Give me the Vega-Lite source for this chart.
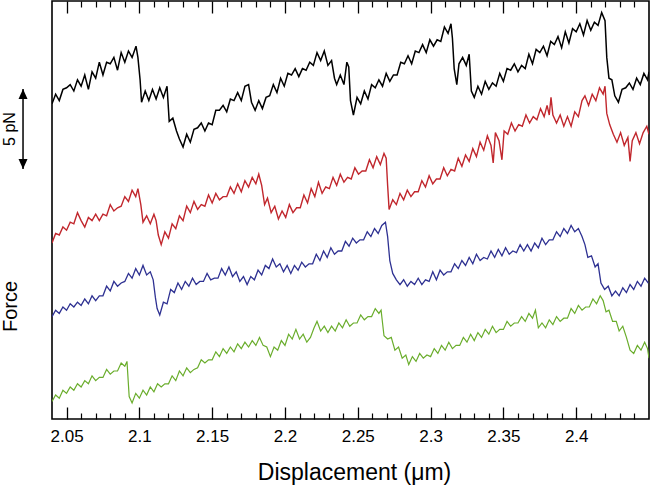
{
"$schema":"https://vega.github.io/schema/vega-lite/v6.json",
"width":597,"height":418,"autosize":"none",
"padding":{"left":52,"top":1,"right":1,"bottom":69},
"background":"white",
"config":{"view":{"stroke":"black","strokeWidth":1.6},"font":"Liberation Sans","axis":{"labelFont":"Liberation Sans","titleFont":"Liberation Sans","grid":false,"domain":false,"labelColor":"black","titleColor":"black","tickColor":"black"}},
"datasets":{
"bar":[{"x":2.0201,"y0":15.625,"y1":20.625,"ym":18.125,"label":"5 pN"}],
"traces":[
{"s":"k","x":2.0400,"y":19.7},{"s":"k","x":2.0425,"y":20.3},{"s":"k","x":2.0450,"y":19.9},{"s":"k","x":2.0475,"y":20.6},{"s":"k","x":2.0500,"y":20.7},{"s":"k","x":2.0525,"y":20.9},{"s":"k","x":2.0550,"y":20.5},{"s":"k","x":2.0575,"y":21.2},{"s":"k","x":2.0600,"y":20.8},{"s":"k","x":2.0625,"y":21.5},{"s":"k","x":2.0650,"y":20.6},{"s":"k","x":2.0675,"y":21.7},{"s":"k","x":2.0700,"y":21.3},{"s":"k","x":2.0725,"y":22.3},{"s":"k","x":2.0750,"y":21.5},{"s":"k","x":2.0775,"y":22.3},{"s":"k","x":2.0800,"y":22.2},{"s":"k","x":2.0825,"y":22.6},{"s":"k","x":2.0850,"y":21.8},{"s":"k","x":2.0875,"y":22.9},{"s":"k","x":2.0900,"y":22.3},{"s":"k","x":2.0925,"y":23.0},{"s":"k","x":2.0950,"y":22.6},{"s":"k","x":2.0977,"y":23.3},{"s":"k","x":2.0990,"y":22.6},{"s":"k","x":2.1005,"y":21.2},{"s":"k","x":2.1015,"y":19.8},{"s":"k","x":2.1040,"y":20.5},{"s":"k","x":2.1065,"y":19.9},{"s":"k","x":2.1090,"y":20.6},{"s":"k","x":2.1115,"y":20.0},{"s":"k","x":2.1140,"y":20.7},{"s":"k","x":2.1165,"y":20.1},{"s":"k","x":2.1190,"y":20.8},{"s":"k","x":2.1205,"y":18.6},{"s":"k","x":2.1230,"y":18.8},{"s":"k","x":2.1255,"y":18.0},{"s":"k","x":2.1275,"y":17.5},{"s":"k","x":2.1300,"y":17.0},{"s":"k","x":2.1325,"y":17.8},{"s":"k","x":2.1350,"y":17.3},{"s":"k","x":2.1375,"y":18.1},{"s":"k","x":2.1400,"y":18.2},{"s":"k","x":2.1425,"y":18.5},{"s":"k","x":2.1450,"y":18.0},{"s":"k","x":2.1475,"y":18.5},{"s":"k","x":2.1500,"y":18.4},{"s":"k","x":2.1525,"y":19.3},{"s":"k","x":2.1550,"y":19.3},{"s":"k","x":2.1575,"y":19.6},{"s":"k","x":2.1600,"y":19.2},{"s":"k","x":2.1625,"y":20.0},{"s":"k","x":2.1650,"y":19.9},{"s":"k","x":2.1675,"y":20.4},{"s":"k","x":2.1700,"y":19.9},{"s":"k","x":2.1725,"y":20.8},{"s":"k","x":2.1750,"y":20.9},{"s":"k","x":2.1770,"y":19.8},{"s":"k","x":2.1795,"y":19.3},{"s":"k","x":2.1820,"y":19.9},{"s":"k","x":2.1845,"y":19.4},{"s":"k","x":2.1870,"y":20.1},{"s":"k","x":2.1895,"y":20.2},{"s":"k","x":2.1920,"y":20.9},{"s":"k","x":2.1945,"y":20.4},{"s":"k","x":2.1970,"y":21.3},{"s":"k","x":2.1995,"y":20.8},{"s":"k","x":2.2020,"y":21.6},{"s":"k","x":2.2045,"y":21.5},{"s":"k","x":2.2070,"y":21.9},{"s":"k","x":2.2095,"y":21.4},{"s":"k","x":2.2120,"y":21.9},{"s":"k","x":2.2145,"y":21.8},{"s":"k","x":2.2170,"y":22.3},{"s":"k","x":2.2195,"y":22.1},{"s":"k","x":2.2220,"y":22.9},{"s":"k","x":2.2245,"y":22.4},{"s":"k","x":2.2270,"y":23.0},{"s":"k","x":2.2295,"y":22.1},{"s":"k","x":2.2320,"y":22.4},{"s":"k","x":2.2340,"y":21.3},{"s":"k","x":2.2355,"y":20.9},{"s":"k","x":2.2380,"y":21.5},{"s":"k","x":2.2405,"y":20.9},{"s":"k","x":2.2425,"y":22.3},{"s":"k","x":2.2438,"y":22.0},{"s":"k","x":2.2450,"y":19.9},{"s":"k","x":2.2470,"y":19.0},{"s":"k","x":2.2495,"y":20.1},{"s":"k","x":2.2520,"y":19.7},{"s":"k","x":2.2545,"y":20.5},{"s":"k","x":2.2570,"y":20.0},{"s":"k","x":2.2595,"y":20.9},{"s":"k","x":2.2620,"y":20.7},{"s":"k","x":2.2645,"y":21.2},{"s":"k","x":2.2670,"y":20.8},{"s":"k","x":2.2695,"y":21.6},{"s":"k","x":2.2720,"y":21.1},{"s":"k","x":2.2745,"y":21.5},{"s":"k","x":2.2770,"y":21.5},{"s":"k","x":2.2795,"y":22.3},{"s":"k","x":2.2820,"y":22.2},{"s":"k","x":2.2845,"y":22.7},{"s":"k","x":2.2870,"y":22.2},{"s":"k","x":2.2895,"y":23.0},{"s":"k","x":2.2920,"y":22.9},{"s":"k","x":2.2945,"y":23.4},{"s":"k","x":2.2970,"y":22.9},{"s":"k","x":2.2995,"y":23.7},{"s":"k","x":2.3020,"y":23.3},{"s":"k","x":2.3045,"y":23.7},{"s":"k","x":2.3070,"y":23.6},{"s":"k","x":2.3095,"y":24.5},{"s":"k","x":2.3120,"y":24.1},{"s":"k","x":2.3140,"y":24.7},{"s":"k","x":2.3150,"y":23.8},{"s":"k","x":2.3162,"y":21.9},{"s":"k","x":2.3180,"y":20.9},{"s":"k","x":2.3195,"y":22.2},{"s":"k","x":2.3220,"y":22.6},{"s":"k","x":2.3245,"y":22.1},{"s":"k","x":2.3265,"y":22.8},{"s":"k","x":2.3280,"y":20.5},{"s":"k","x":2.3300,"y":20.1},{"s":"k","x":2.3325,"y":20.8},{"s":"k","x":2.3350,"y":20.3},{"s":"k","x":2.3375,"y":21.1},{"s":"k","x":2.3400,"y":20.6},{"s":"k","x":2.3425,"y":21.0},{"s":"k","x":2.3450,"y":20.8},{"s":"k","x":2.3475,"y":21.6},{"s":"k","x":2.3500,"y":21.1},{"s":"k","x":2.3525,"y":21.9},{"s":"k","x":2.3550,"y":21.8},{"s":"k","x":2.3575,"y":22.2},{"s":"k","x":2.3600,"y":21.7},{"s":"k","x":2.3625,"y":22.1},{"s":"k","x":2.3650,"y":21.9},{"s":"k","x":2.3675,"y":22.8},{"s":"k","x":2.3700,"y":22.2},{"s":"k","x":2.3725,"y":23.1},{"s":"k","x":2.3750,"y":22.9},{"s":"k","x":2.3775,"y":23.3},{"s":"k","x":2.3800,"y":22.7},{"s":"k","x":2.3825,"y":23.6},{"s":"k","x":2.3850,"y":23.4},{"s":"k","x":2.3875,"y":23.9},{"s":"k","x":2.3900,"y":23.2},{"s":"k","x":2.3925,"y":24.2},{"s":"k","x":2.3950,"y":23.5},{"s":"k","x":2.3975,"y":24.4},{"s":"k","x":2.4000,"y":24.2},{"s":"k","x":2.4025,"y":24.7},{"s":"k","x":2.4050,"y":24.0},{"s":"k","x":2.4075,"y":24.9},{"s":"k","x":2.4100,"y":24.3},{"s":"k","x":2.4125,"y":24.8},{"s":"k","x":2.4150,"y":24.6},{"s":"k","x":2.4175,"y":25.4},{"s":"k","x":2.4198,"y":24.9},{"s":"k","x":2.4210,"y":22.6},{"s":"k","x":2.4225,"y":21.3},{"s":"k","x":2.4245,"y":21.2},{"s":"k","x":2.4265,"y":20.2},{"s":"k","x":2.4290,"y":19.8},{"s":"k","x":2.4315,"y":20.6},{"s":"k","x":2.4340,"y":20.7},{"s":"k","x":2.4365,"y":21.0},{"s":"k","x":2.4390,"y":20.6},{"s":"k","x":2.4415,"y":21.3},{"s":"k","x":2.4440,"y":20.9},{"s":"k","x":2.4465,"y":21.6},{"s":"k","x":2.4490,"y":21.2},{"s":"k","x":2.4500,"y":21.7},
{"s":"r","x":2.0400,"y":11.0},{"s":"r","x":2.0425,"y":11.6},{"s":"r","x":2.0450,"y":11.5},{"s":"r","x":2.0475,"y":12.0},{"s":"r","x":2.0500,"y":11.8},{"s":"r","x":2.0525,"y":12.3},{"s":"r","x":2.0550,"y":12.2},{"s":"r","x":2.0575,"y":12.9},{"s":"r","x":2.0600,"y":12.4},{"s":"r","x":2.0625,"y":12.0},{"s":"r","x":2.0650,"y":12.6},{"s":"r","x":2.0675,"y":12.4},{"s":"r","x":2.0700,"y":12.8},{"s":"r","x":2.0725,"y":12.4},{"s":"r","x":2.0750,"y":12.8},{"s":"r","x":2.0775,"y":12.7},{"s":"r","x":2.0800,"y":13.4},{"s":"r","x":2.0825,"y":13.0},{"s":"r","x":2.0850,"y":13.2},{"s":"r","x":2.0875,"y":13.3},{"s":"r","x":2.0900,"y":13.9},{"s":"r","x":2.0925,"y":13.6},{"s":"r","x":2.0950,"y":14.3},{"s":"r","x":2.0975,"y":13.9},{"s":"r","x":2.0990,"y":14.4},{"s":"r","x":2.1010,"y":13.4},{"s":"r","x":2.1025,"y":12.3},{"s":"r","x":2.1050,"y":12.7},{"s":"r","x":2.1075,"y":12.2},{"s":"r","x":2.1100,"y":12.8},{"s":"r","x":2.1115,"y":12.4},{"s":"r","x":2.1130,"y":11.5},{"s":"r","x":2.1150,"y":10.9},{"s":"r","x":2.1175,"y":11.7},{"s":"r","x":2.1200,"y":11.3},{"s":"r","x":2.1225,"y":12.2},{"s":"r","x":2.1250,"y":11.9},{"s":"r","x":2.1275,"y":12.7},{"s":"r","x":2.1300,"y":12.4},{"s":"r","x":2.1325,"y":13.3},{"s":"r","x":2.1350,"y":12.9},{"s":"r","x":2.1375,"y":13.6},{"s":"r","x":2.1400,"y":13.1},{"s":"r","x":2.1425,"y":13.4},{"s":"r","x":2.1450,"y":13.3},{"s":"r","x":2.1475,"y":14.0},{"s":"r","x":2.1500,"y":13.5},{"s":"r","x":2.1525,"y":14.1},{"s":"r","x":2.1550,"y":13.7},{"s":"r","x":2.1575,"y":13.9},{"s":"r","x":2.1600,"y":13.9},{"s":"r","x":2.1625,"y":14.5},{"s":"r","x":2.1650,"y":14.1},{"s":"r","x":2.1675,"y":14.7},{"s":"r","x":2.1700,"y":14.2},{"s":"r","x":2.1725,"y":14.9},{"s":"r","x":2.1750,"y":14.5},{"s":"r","x":2.1775,"y":15.1},{"s":"r","x":2.1800,"y":14.7},{"s":"r","x":2.1820,"y":15.3},{"s":"r","x":2.1840,"y":14.6},{"s":"r","x":2.1860,"y":13.4},{"s":"r","x":2.1880,"y":13.8},{"s":"r","x":2.1905,"y":12.9},{"s":"r","x":2.1930,"y":13.3},{"s":"r","x":2.1955,"y":12.5},{"s":"r","x":2.1980,"y":13.0},{"s":"r","x":2.2005,"y":12.6},{"s":"r","x":2.2030,"y":13.4},{"s":"r","x":2.2055,"y":12.9},{"s":"r","x":2.2080,"y":13.2},{"s":"r","x":2.2105,"y":13.2},{"s":"r","x":2.2130,"y":14.0},{"s":"r","x":2.2155,"y":13.5},{"s":"r","x":2.2180,"y":14.4},{"s":"r","x":2.2205,"y":13.9},{"s":"r","x":2.2230,"y":14.8},{"s":"r","x":2.2255,"y":14.1},{"s":"r","x":2.2280,"y":14.5},{"s":"r","x":2.2305,"y":14.4},{"s":"r","x":2.2330,"y":15.1},{"s":"r","x":2.2355,"y":14.6},{"s":"r","x":2.2380,"y":15.3},{"s":"r","x":2.2405,"y":14.8},{"s":"r","x":2.2430,"y":15.1},{"s":"r","x":2.2455,"y":15.0},{"s":"r","x":2.2480,"y":15.7},{"s":"r","x":2.2505,"y":15.3},{"s":"r","x":2.2530,"y":15.5},{"s":"r","x":2.2555,"y":15.5},{"s":"r","x":2.2580,"y":16.2},{"s":"r","x":2.2605,"y":15.7},{"s":"r","x":2.2630,"y":16.4},{"s":"r","x":2.2655,"y":15.9},{"s":"r","x":2.2680,"y":16.6},{"s":"r","x":2.2695,"y":16.3},{"s":"r","x":2.2705,"y":14.6},{"s":"r","x":2.2715,"y":13.1},{"s":"r","x":2.2740,"y":13.7},{"s":"r","x":2.2765,"y":13.4},{"s":"r","x":2.2790,"y":14.1},{"s":"r","x":2.2815,"y":13.7},{"s":"r","x":2.2840,"y":14.3},{"s":"r","x":2.2865,"y":13.9},{"s":"r","x":2.2890,"y":14.2},{"s":"r","x":2.2915,"y":14.2},{"s":"r","x":2.2940,"y":14.9},{"s":"r","x":2.2965,"y":14.5},{"s":"r","x":2.2990,"y":15.2},{"s":"r","x":2.3015,"y":14.7},{"s":"r","x":2.3040,"y":15.0},{"s":"r","x":2.3065,"y":15.0},{"s":"r","x":2.3090,"y":15.7},{"s":"r","x":2.3115,"y":15.2},{"s":"r","x":2.3140,"y":15.6},{"s":"r","x":2.3165,"y":15.5},{"s":"r","x":2.3190,"y":16.3},{"s":"r","x":2.3215,"y":15.8},{"s":"r","x":2.3240,"y":16.5},{"s":"r","x":2.3265,"y":16.1},{"s":"r","x":2.3290,"y":16.9},{"s":"r","x":2.3315,"y":16.4},{"s":"r","x":2.3340,"y":17.3},{"s":"r","x":2.3365,"y":16.8},{"s":"r","x":2.3390,"y":17.7},{"s":"r","x":2.3415,"y":17.1},{"s":"r","x":2.3430,"y":16.0},{"s":"r","x":2.3445,"y":17.9},{"s":"r","x":2.3470,"y":17.4},{"s":"r","x":2.3490,"y":16.2},{"s":"r","x":2.3505,"y":18.0},{"s":"r","x":2.3530,"y":17.8},{"s":"r","x":2.3555,"y":18.5},{"s":"r","x":2.3580,"y":18.0},{"s":"r","x":2.3605,"y":18.4},{"s":"r","x":2.3630,"y":18.3},{"s":"r","x":2.3655,"y":19.0},{"s":"r","x":2.3680,"y":18.5},{"s":"r","x":2.3705,"y":18.9},{"s":"r","x":2.3730,"y":18.7},{"s":"r","x":2.3755,"y":19.4},{"s":"r","x":2.3780,"y":18.9},{"s":"r","x":2.3800,"y":19.6},{"s":"r","x":2.3815,"y":19.0},{"s":"r","x":2.3827,"y":20.1},{"s":"r","x":2.3840,"y":19.0},{"s":"r","x":2.3865,"y":18.5},{"s":"r","x":2.3890,"y":19.0},{"s":"r","x":2.3915,"y":18.3},{"s":"r","x":2.3940,"y":18.9},{"s":"r","x":2.3965,"y":18.3},{"s":"r","x":2.3990,"y":19.2},{"s":"r","x":2.4015,"y":18.9},{"s":"r","x":2.4040,"y":19.9},{"s":"r","x":2.4060,"y":20.2},{"s":"r","x":2.4085,"y":19.6},{"s":"r","x":2.4110,"y":20.3},{"s":"r","x":2.4135,"y":19.9},{"s":"r","x":2.4160,"y":20.7},{"s":"r","x":2.4185,"y":20.3},{"s":"r","x":2.4198,"y":20.8},{"s":"r","x":2.4210,"y":19.1},{"s":"r","x":2.4230,"y":18.4},{"s":"r","x":2.4255,"y":17.8},{"s":"r","x":2.4280,"y":17.3},{"s":"r","x":2.4305,"y":17.9},{"s":"r","x":2.4330,"y":17.1},{"s":"r","x":2.4355,"y":17.6},{"s":"r","x":2.4370,"y":16.1},{"s":"r","x":2.4385,"y":17.4},{"s":"r","x":2.4410,"y":17.9},{"s":"r","x":2.4435,"y":17.2},{"s":"r","x":2.4460,"y":17.9},{"s":"r","x":2.4485,"y":18.3},{"s":"r","x":2.4500,"y":17.8},
{"s":"b","x":2.0400,"y":6.4},{"s":"b","x":2.0425,"y":6.8},{"s":"b","x":2.0450,"y":6.6},{"s":"b","x":2.0475,"y":7.0},{"s":"b","x":2.0500,"y":6.8},{"s":"b","x":2.0525,"y":7.2},{"s":"b","x":2.0550,"y":7.0},{"s":"b","x":2.0575,"y":7.3},{"s":"b","x":2.0600,"y":7.1},{"s":"b","x":2.0625,"y":7.5},{"s":"b","x":2.0650,"y":7.2},{"s":"b","x":2.0675,"y":7.7},{"s":"b","x":2.0700,"y":7.4},{"s":"b","x":2.0725,"y":7.7},{"s":"b","x":2.0750,"y":7.7},{"s":"b","x":2.0775,"y":8.3},{"s":"b","x":2.0800,"y":8.0},{"s":"b","x":2.0825,"y":8.6},{"s":"b","x":2.0850,"y":8.3},{"s":"b","x":2.0875,"y":8.5},{"s":"b","x":2.0900,"y":8.6},{"s":"b","x":2.0925,"y":9.1},{"s":"b","x":2.0950,"y":8.8},{"s":"b","x":2.0975,"y":9.4},{"s":"b","x":2.1000,"y":9.0},{"s":"b","x":2.1025,"y":9.6},{"s":"b","x":2.1050,"y":9.0},{"s":"b","x":2.1075,"y":9.2},{"s":"b","x":2.1095,"y":8.7},{"s":"b","x":2.1110,"y":7.6},{"s":"b","x":2.1122,"y":6.9},{"s":"b","x":2.1140,"y":6.5},{"s":"b","x":2.1165,"y":7.3},{"s":"b","x":2.1190,"y":7.2},{"s":"b","x":2.1215,"y":8.1},{"s":"b","x":2.1240,"y":7.9},{"s":"b","x":2.1265,"y":8.5},{"s":"b","x":2.1290,"y":8.1},{"s":"b","x":2.1315,"y":8.6},{"s":"b","x":2.1340,"y":8.3},{"s":"b","x":2.1365,"y":8.8},{"s":"b","x":2.1390,"y":8.4},{"s":"b","x":2.1415,"y":8.6},{"s":"b","x":2.1440,"y":8.6},{"s":"b","x":2.1465,"y":9.1},{"s":"b","x":2.1490,"y":8.7},{"s":"b","x":2.1515,"y":8.8},{"s":"b","x":2.1540,"y":8.8},{"s":"b","x":2.1565,"y":9.4},{"s":"b","x":2.1590,"y":9.0},{"s":"b","x":2.1615,"y":9.5},{"s":"b","x":2.1640,"y":8.9},{"s":"b","x":2.1665,"y":9.2},{"s":"b","x":2.1690,"y":8.6},{"s":"b","x":2.1715,"y":8.9},{"s":"b","x":2.1740,"y":8.4},{"s":"b","x":2.1765,"y":8.9},{"s":"b","x":2.1790,"y":8.7},{"s":"b","x":2.1815,"y":9.3},{"s":"b","x":2.1840,"y":9.0},{"s":"b","x":2.1865,"y":9.6},{"s":"b","x":2.1890,"y":9.4},{"s":"b","x":2.1915,"y":10.0},{"s":"b","x":2.1940,"y":9.5},{"s":"b","x":2.1965,"y":9.7},{"s":"b","x":2.1990,"y":9.2},{"s":"b","x":2.2015,"y":9.6},{"s":"b","x":2.2040,"y":9.1},{"s":"b","x":2.2065,"y":9.6},{"s":"b","x":2.2090,"y":9.3},{"s":"b","x":2.2115,"y":9.8},{"s":"b","x":2.2140,"y":9.5},{"s":"b","x":2.2165,"y":9.7},{"s":"b","x":2.2190,"y":9.7},{"s":"b","x":2.2215,"y":10.3},{"s":"b","x":2.2240,"y":9.9},{"s":"b","x":2.2265,"y":10.5},{"s":"b","x":2.2290,"y":10.1},{"s":"b","x":2.2315,"y":10.7},{"s":"b","x":2.2340,"y":10.3},{"s":"b","x":2.2365,"y":10.5},{"s":"b","x":2.2390,"y":10.5},{"s":"b","x":2.2415,"y":11.1},{"s":"b","x":2.2440,"y":10.8},{"s":"b","x":2.2465,"y":11.3},{"s":"b","x":2.2490,"y":11.0},{"s":"b","x":2.2515,"y":11.2},{"s":"b","x":2.2540,"y":11.2},{"s":"b","x":2.2565,"y":11.7},{"s":"b","x":2.2590,"y":11.4},{"s":"b","x":2.2615,"y":11.9},{"s":"b","x":2.2640,"y":11.6},{"s":"b","x":2.2665,"y":12.1},{"s":"b","x":2.2690,"y":12.3},{"s":"b","x":2.2705,"y":11.4},{"s":"b","x":2.2720,"y":9.9},{"s":"b","x":2.2740,"y":9.1},{"s":"b","x":2.2765,"y":8.7},{"s":"b","x":2.2790,"y":8.4},{"s":"b","x":2.2815,"y":8.7},{"s":"b","x":2.2840,"y":8.3},{"s":"b","x":2.2865,"y":8.6},{"s":"b","x":2.2890,"y":8.4},{"s":"b","x":2.2915,"y":8.8},{"s":"b","x":2.2940,"y":8.4},{"s":"b","x":2.2965,"y":8.7},{"s":"b","x":2.2990,"y":8.6},{"s":"b","x":2.3015,"y":9.2},{"s":"b","x":2.3040,"y":8.7},{"s":"b","x":2.3065,"y":9.3},{"s":"b","x":2.3090,"y":9.0},{"s":"b","x":2.3115,"y":9.2},{"s":"b","x":2.3140,"y":9.2},{"s":"b","x":2.3165,"y":9.7},{"s":"b","x":2.3190,"y":9.4},{"s":"b","x":2.3215,"y":9.9},{"s":"b","x":2.3240,"y":9.6},{"s":"b","x":2.3265,"y":10.1},{"s":"b","x":2.3290,"y":9.7},{"s":"b","x":2.3315,"y":10.3},{"s":"b","x":2.3340,"y":9.9},{"s":"b","x":2.3365,"y":10.1},{"s":"b","x":2.3390,"y":10.0},{"s":"b","x":2.3415,"y":10.5},{"s":"b","x":2.3440,"y":10.1},{"s":"b","x":2.3465,"y":10.6},{"s":"b","x":2.3490,"y":10.2},{"s":"b","x":2.3515,"y":10.7},{"s":"b","x":2.3540,"y":10.3},{"s":"b","x":2.3565,"y":10.5},{"s":"b","x":2.3590,"y":10.4},{"s":"b","x":2.3615,"y":10.9},{"s":"b","x":2.3640,"y":10.5},{"s":"b","x":2.3665,"y":10.9},{"s":"b","x":2.3690,"y":10.5},{"s":"b","x":2.3715,"y":11.0},{"s":"b","x":2.3740,"y":10.7},{"s":"b","x":2.3765,"y":11.3},{"s":"b","x":2.3790,"y":10.9},{"s":"b","x":2.3815,"y":11.2},{"s":"b","x":2.3840,"y":11.2},{"s":"b","x":2.3865,"y":11.7},{"s":"b","x":2.3890,"y":11.4},{"s":"b","x":2.3915,"y":11.9},{"s":"b","x":2.3940,"y":11.6},{"s":"b","x":2.3965,"y":12.1},{"s":"b","x":2.3990,"y":11.7},{"s":"b","x":2.4015,"y":11.9},{"s":"b","x":2.4040,"y":11.4},{"s":"b","x":2.4060,"y":10.9},{"s":"b","x":2.4080,"y":10.1},{"s":"b","x":2.4105,"y":10.2},{"s":"b","x":2.4130,"y":9.5},{"s":"b","x":2.4150,"y":9.7},{"s":"b","x":2.4170,"y":8.5},{"s":"b","x":2.4195,"y":8.1},{"s":"b","x":2.4220,"y":8.3},{"s":"b","x":2.4245,"y":7.7},{"s":"b","x":2.4270,"y":8.0},{"s":"b","x":2.4295,"y":7.7},{"s":"b","x":2.4320,"y":8.2},{"s":"b","x":2.4345,"y":7.9},{"s":"b","x":2.4370,"y":8.4},{"s":"b","x":2.4395,"y":8.1},{"s":"b","x":2.4420,"y":8.6},{"s":"b","x":2.4445,"y":8.3},{"s":"b","x":2.4470,"y":8.8},{"s":"b","x":2.4495,"y":8.5},
{"s":"g","x":2.0400,"y":1.1},{"s":"g","x":2.0425,"y":1.5},{"s":"g","x":2.0450,"y":1.3},{"s":"g","x":2.0475,"y":1.8},{"s":"g","x":2.0500,"y":1.6},{"s":"g","x":2.0525,"y":2.0},{"s":"g","x":2.0550,"y":1.8},{"s":"g","x":2.0575,"y":2.2},{"s":"g","x":2.0600,"y":2.0},{"s":"g","x":2.0625,"y":2.4},{"s":"g","x":2.0650,"y":2.2},{"s":"g","x":2.0675,"y":2.7},{"s":"g","x":2.0700,"y":2.4},{"s":"g","x":2.0725,"y":2.6},{"s":"g","x":2.0750,"y":2.6},{"s":"g","x":2.0775,"y":3.1},{"s":"g","x":2.0800,"y":2.8},{"s":"g","x":2.0825,"y":3.0},{"s":"g","x":2.0850,"y":3.0},{"s":"g","x":2.0875,"y":3.5},{"s":"g","x":2.0900,"y":3.3},{"s":"g","x":2.0915,"y":3.6},{"s":"g","x":2.0930,"y":1.4},{"s":"g","x":2.0950,"y":1.0},{"s":"g","x":2.0975,"y":1.6},{"s":"g","x":2.1000,"y":1.3},{"s":"g","x":2.1025,"y":1.8},{"s":"g","x":2.1050,"y":1.5},{"s":"g","x":2.1075,"y":2.0},{"s":"g","x":2.1100,"y":1.7},{"s":"g","x":2.1125,"y":2.2},{"s":"g","x":2.1150,"y":2.0},{"s":"g","x":2.1175,"y":2.2},{"s":"g","x":2.1200,"y":2.2},{"s":"g","x":2.1225,"y":2.7},{"s":"g","x":2.1250,"y":2.4},{"s":"g","x":2.1275,"y":3.0},{"s":"g","x":2.1300,"y":2.7},{"s":"g","x":2.1325,"y":3.2},{"s":"g","x":2.1350,"y":2.9},{"s":"g","x":2.1375,"y":3.1},{"s":"g","x":2.1400,"y":3.2},{"s":"g","x":2.1425,"y":3.7},{"s":"g","x":2.1450,"y":3.5},{"s":"g","x":2.1475,"y":3.7},{"s":"g","x":2.1500,"y":3.7},{"s":"g","x":2.1525,"y":4.2},{"s":"g","x":2.1550,"y":3.9},{"s":"g","x":2.1575,"y":4.4},{"s":"g","x":2.1600,"y":4.1},{"s":"g","x":2.1625,"y":4.5},{"s":"g","x":2.1650,"y":4.2},{"s":"g","x":2.1675,"y":4.7},{"s":"g","x":2.1700,"y":4.4},{"s":"g","x":2.1725,"y":4.8},{"s":"g","x":2.1750,"y":4.5},{"s":"g","x":2.1775,"y":4.9},{"s":"g","x":2.1800,"y":4.6},{"s":"g","x":2.1825,"y":5.1},{"s":"g","x":2.1850,"y":4.6},{"s":"g","x":2.1875,"y":4.5},{"s":"g","x":2.1900,"y":3.9},{"s":"g","x":2.1925,"y":4.5},{"s":"g","x":2.1950,"y":4.3},{"s":"g","x":2.1975,"y":4.9},{"s":"g","x":2.2000,"y":4.6},{"s":"g","x":2.2025,"y":5.3},{"s":"g","x":2.2050,"y":5.0},{"s":"g","x":2.2075,"y":5.6},{"s":"g","x":2.2100,"y":5.0},{"s":"g","x":2.2125,"y":5.3},{"s":"g","x":2.2150,"y":4.8},{"s":"g","x":2.2175,"y":5.1},{"s":"g","x":2.2200,"y":5.7},{"s":"g","x":2.2220,"y":6.1},{"s":"g","x":2.2245,"y":5.5},{"s":"g","x":2.2270,"y":5.8},{"s":"g","x":2.2295,"y":5.4},{"s":"g","x":2.2320,"y":5.8},{"s":"g","x":2.2345,"y":5.5},{"s":"g","x":2.2370,"y":6.0},{"s":"g","x":2.2395,"y":5.7},{"s":"g","x":2.2420,"y":6.2},{"s":"g","x":2.2445,"y":5.8},{"s":"g","x":2.2470,"y":6.0},{"s":"g","x":2.2495,"y":6.0},{"s":"g","x":2.2520,"y":6.5},{"s":"g","x":2.2545,"y":6.2},{"s":"g","x":2.2570,"y":6.4},{"s":"g","x":2.2595,"y":6.4},{"s":"g","x":2.2620,"y":6.9},{"s":"g","x":2.2645,"y":6.6},{"s":"g","x":2.2660,"y":6.8},{"s":"g","x":2.2680,"y":5.2},{"s":"g","x":2.2705,"y":5.0},{"s":"g","x":2.2730,"y":5.1},{"s":"g","x":2.2755,"y":4.3},{"s":"g","x":2.2780,"y":4.5},{"s":"g","x":2.2805,"y":3.8},{"s":"g","x":2.2830,"y":4.0},{"s":"g","x":2.2850,"y":3.4},{"s":"g","x":2.2875,"y":3.9},{"s":"g","x":2.2900,"y":3.6},{"s":"g","x":2.2925,"y":4.1},{"s":"g","x":2.2950,"y":3.8},{"s":"g","x":2.2975,"y":4.0},{"s":"g","x":2.3000,"y":3.9},{"s":"g","x":2.3025,"y":4.4},{"s":"g","x":2.3050,"y":4.1},{"s":"g","x":2.3075,"y":4.6},{"s":"g","x":2.3100,"y":4.3},{"s":"g","x":2.3125,"y":4.8},{"s":"g","x":2.3150,"y":4.4},{"s":"g","x":2.3175,"y":4.6},{"s":"g","x":2.3200,"y":4.6},{"s":"g","x":2.3225,"y":5.1},{"s":"g","x":2.3250,"y":4.8},{"s":"g","x":2.3275,"y":5.3},{"s":"g","x":2.3300,"y":4.9},{"s":"g","x":2.3325,"y":5.4},{"s":"g","x":2.3350,"y":5.1},{"s":"g","x":2.3375,"y":5.6},{"s":"g","x":2.3400,"y":5.3},{"s":"g","x":2.3425,"y":5.8},{"s":"g","x":2.3450,"y":5.4},{"s":"g","x":2.3475,"y":5.6},{"s":"g","x":2.3500,"y":5.6},{"s":"g","x":2.3525,"y":6.1},{"s":"g","x":2.3550,"y":5.8},{"s":"g","x":2.3575,"y":6.0},{"s":"g","x":2.3600,"y":6.0},{"s":"g","x":2.3625,"y":6.4},{"s":"g","x":2.3650,"y":6.1},{"s":"g","x":2.3675,"y":6.6},{"s":"g","x":2.3700,"y":6.3},{"s":"g","x":2.3720,"y":6.8},{"s":"g","x":2.3740,"y":5.7},{"s":"g","x":2.3765,"y":6.0},{"s":"g","x":2.3790,"y":5.7},{"s":"g","x":2.3815,"y":6.2},{"s":"g","x":2.3840,"y":5.9},{"s":"g","x":2.3865,"y":6.4},{"s":"g","x":2.3890,"y":6.1},{"s":"g","x":2.3915,"y":6.3},{"s":"g","x":2.3940,"y":6.3},{"s":"g","x":2.3965,"y":6.9},{"s":"g","x":2.3990,"y":6.6},{"s":"g","x":2.4015,"y":7.1},{"s":"g","x":2.4040,"y":6.8},{"s":"g","x":2.4065,"y":7.0},{"s":"g","x":2.4090,"y":7.0},{"s":"g","x":2.4115,"y":7.5},{"s":"g","x":2.4140,"y":7.2},{"s":"g","x":2.4165,"y":7.7},{"s":"g","x":2.4185,"y":7.4},{"s":"g","x":2.4205,"y":6.7},{"s":"g","x":2.4225,"y":6.8},{"s":"g","x":2.4250,"y":6.1},{"s":"g","x":2.4275,"y":6.1},{"s":"g","x":2.4295,"y":5.5},{"s":"g","x":2.4320,"y":5.8},{"s":"g","x":2.4345,"y":5.1},{"s":"g","x":2.4370,"y":4.3},{"s":"g","x":2.4395,"y":4.1},{"s":"g","x":2.4420,"y":4.6},{"s":"g","x":2.4445,"y":4.3},{"s":"g","x":2.4470,"y":4.8},{"s":"g","x":2.4490,"y":4.4},{"s":"g","x":2.4500,"y":3.8}
]},
"layer":[
{"data":{"name":"traces"},
 "mark":{"type":"line","clip":true},
 "encoding":{
  "x":{"field":"x","type":"quantitative","scale":{"domain":[2.04,2.45],"nice":false,"zero":false},
   "axis":{"orient":"bottom","values":[2.05,2.1,2.15,2.2,2.25,2.3,2.35,2.4],"format":"~g","ticks":false,"labelFontSize":17,"labelPadding":9,"labelFlush":false,"title":"Displacement (μm)","titleFontSize":23,"titleFontWeight":"normal","titleX":302,"titleY":60,"titleAlign":"center","titleBaseline":"alphabetic"}},
  "y":{"field":"y","type":"quantitative","scale":{"domain":[0,26.125],"nice":false,"zero":false},
   "axis":{"orient":"left","ticks":false,"labels":false,"title":"Force","titleFontSize":20,"titleFontWeight":"normal","titleX":-36,"titleY":305,"titleAngle":-90,"titleAlign":"center","titleBaseline":"alphabetic"}},
  "color":{"field":"s","type":"nominal","scale":{"domain":["k","r","b","g"],"range":["#000000","#c1272d","#2e3192","#6aad2c"]},"legend":null},
  "strokeWidth":{"field":"s","type":"nominal","scale":{"domain":["k","r","b","g"],"range":[1.5,1.2,1.2,1.2]},"legend":null}
 }},
{"data":{"name":"bar"},
 "mark":{"type":"rule","strokeWidth":1.5,"color":"black"},
 "encoding":{
  "x":{"field":"x","type":"quantitative","scale":{"domain":[2.04,2.45],"nice":false,"zero":false},
   "axis":{"orient":"bottom","values":[2.05,2.1,2.15,2.2,2.25,2.3,2.35,2.4],"labels":false,"tickSize":-12,"tickWidth":1.3,"title":null}},
  "y":{"field":"y0","type":"quantitative","scale":{"domain":[0,26.125],"nice":false,"zero":false},"axis":null},
  "y2":{"field":"y1"}
 }},
{"data":{"name":"bar"},
 "mark":{"type":"point","shape":"M0,-1L0.9,1L-0.9,1Z","size":100,"filled":true,"opacity":1,"color":"black","yOffset":5},
 "encoding":{
  "x":{"field":"x","type":"quantitative","scale":{"domain":[2.04,2.45],"nice":false,"zero":false},
   "axis":{"orient":"bottom","values":[2.06,2.07,2.08,2.09,2.11,2.12,2.13,2.14,2.16,2.17,2.18,2.19,2.21,2.22,2.23,2.24,2.26,2.27,2.28,2.29,2.31,2.32,2.33,2.34,2.36,2.37,2.38,2.39,2.41,2.42,2.43,2.44],"labels":false,"tickSize":-6,"tickWidth":1.2,"title":null}},
  "y":{"field":"y1","type":"quantitative","scale":{"domain":[0,26.125],"nice":false,"zero":false},"axis":null}
 }},
{"data":{"name":"bar"},
 "mark":{"type":"point","shape":"M0,1L0.9,-1L-0.9,-1Z","size":100,"filled":true,"opacity":1,"color":"black","yOffset":-5},
 "encoding":{
  "x":{"field":"x","type":"quantitative","scale":{"domain":[2.04,2.45],"nice":false,"zero":false},
   "axis":{"orient":"top","values":[2.05,2.1,2.15,2.2,2.25,2.3,2.35,2.4],"labels":false,"tickSize":-12,"tickWidth":1.3,"title":null}},
  "y":{"field":"y0","type":"quantitative","scale":{"domain":[0,26.125],"nice":false,"zero":false},"axis":null}
 }},
{"data":{"name":"bar"},
 "mark":{"type":"text","angle":270,"fontSize":16,"align":"center","baseline":"middle","xOffset":-13,"font":"Liberation Sans","color":"black"},
 "encoding":{
  "x":{"field":"x","type":"quantitative","scale":{"domain":[2.04,2.45],"nice":false,"zero":false},
   "axis":{"orient":"top","values":[2.06,2.07,2.08,2.09,2.11,2.12,2.13,2.14,2.16,2.17,2.18,2.19,2.21,2.22,2.23,2.24,2.26,2.27,2.28,2.29,2.31,2.32,2.33,2.34,2.36,2.37,2.38,2.39,2.41,2.42,2.43,2.44],"labels":false,"tickSize":-6,"tickWidth":1.2,"title":null}},
  "y":{"field":"ym","type":"quantitative","scale":{"domain":[0,26.125],"nice":false,"zero":false},"axis":null},
  "text":{"field":"label"}
 }}
],
"resolve":{"axis":{"x":"independent","y":"independent"}}
}
